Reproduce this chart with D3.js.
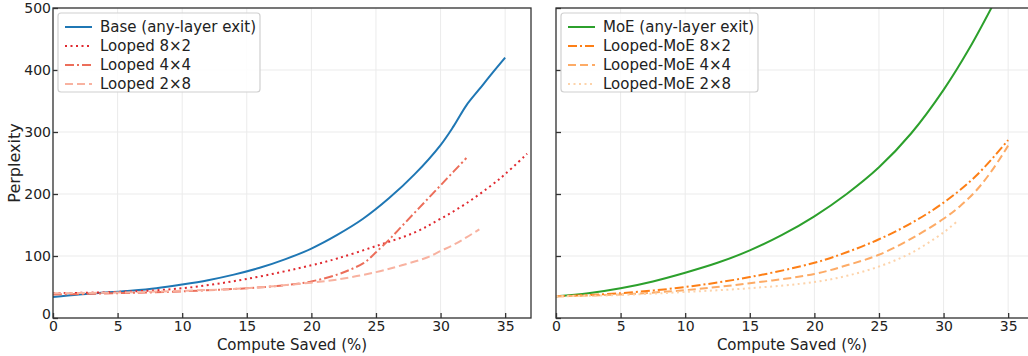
<!DOCTYPE html>
<html><head><meta charset="utf-8">
<script src="https://cdn.jsdelivr.net/npm/d3@7"></script>
<style>body{margin:0;background:#fff}svg{font-family:"DejaVu Sans",sans-serif}</style>
</head><body><svg id="c" width="1028" height="356"></svg>
<script>
// ---- data ----
const xTicks = [0,5,10,15,20,25,30,35];
const yTicks = [0,100,200,300,400,500];

const baseX = [0,2,4,6,8,10,12,14,16,18,20,22,24,26,28,30,31,32,33,34,35];
const baseY = [34,38,41,44,48,54,61,70,81,95,112,134,160,193,232,279,309,343,369,395,420];
const l82X = [0,5,10,15,20,22,25,28,30,32,34,35,36.7];
const l82Y = [40,42,48,63,85,96,116,138,160,185,215,232,265];
const l44X = [0,5,10,15,18,20,22,23,24,24.5,25,26,27,28,29,30,31,32];
const l44Y = [38,40,43,48,53,59,70,78,88,96,106,126,148,170,192,214,236,258];
const l28X = [0,5,10,15,20,22,25,27,29,30,31,32,33];
const l28Y = [40,41,44,48,57,62,74,85,98,108,118,130,143];

const moeX = [0,2.5,5,7.5,10,12.5,15,17.5,20,22.5,25,27.5,30,32,34];
const moeY = [35,40,48,59,73,89,109,134,164,200,243,298,368,435,512];
const m82X = [0,5,10,15,20,22.5,25,27.5,30,32.5,35];
const m82Y = [35,40,50,66,89,106,127,153,186,229,287];
const m44X = [0,5,10,15,20,22.5,25,27.5,30,31.25,32.5,33.75,35];
const m44Y = [35,38,45,56,71,85,102,128,160,180,205,238,278];
const m28X = [0,5,10,15,20,22.5,25,27.5,30,31];
const m28Y = [35,37,42,48,58,68,83,105,138,155];

const leftSeries = [
  {name:"Base (any-layer exit)", x:baseX, y:baseY, color:"#1f77b4", dash:null},
  {name:"Looped 8\u00d72", x:l82X, y:l82Y, color:"#e0292f", dash:"2,3.5"},
  {name:"Looped 4\u00d74", x:l44X, y:l44Y, color:"#ec6e5a", dash:"9,3,2,3"},
  {name:"Looped 2\u00d78", x:l28X, y:l28Y, color:"#f8b2a0", dash:"8,4"}
];
const rightSeries = [
  {name:"MoE (any-layer exit)", x:moeX, y:moeY, color:"#2ca02c", dash:null},
  {name:"Looped-MoE 8\u00d72", x:m82X, y:m82Y, color:"#fd7f16", dash:"9,3,2,3"},
  {name:"Looped-MoE 4\u00d74", x:m44X, y:m44Y, color:"#fdab66", dash:"8,4"},
  {name:"Looped-MoE 2\u00d78", x:m28X, y:m28Y, color:"#fdd3aa", dash:"2,3.5"}
];

const svg = d3.select("#c");
const plotTop=8, plotBottom=318;
const y = d3.scaleLinear().domain([0,500]).range([plotBottom, plotTop]);

function panel(x0, x1, series, showYLabels, id, legendX, legendW){
  const x = d3.scaleLinear().domain([0,37]).range([x0, x1]);
  const g = svg.append("g");
  g.append("clipPath").attr("id", id).append("rect")
    .attr("x", x0).attr("y", plotTop).attr("width", x1-x0).attr("height", plotBottom-plotTop);
  // grid
  g.selectAll(".gx").data(xTicks).join("line")
    .attr("x1", d=>x(d)).attr("x2", d=>x(d)).attr("y1", plotTop).attr("y2", plotBottom)
    .attr("stroke", "#ebebeb").attr("stroke-width", 1);
  g.selectAll(".gy").data(yTicks).join("line")
    .attr("x1", x0).attr("x2", x1).attr("y1", d=>y(d)).attr("y2", d=>y(d))
    .attr("stroke", "#ebebeb").attr("stroke-width", 1);
  // lines
  const lg = g.append("g").attr("clip-path", `url(#${id})`);
  series.forEach(s=>{
    const pts = s.x.map((v,i)=>[v, s.y[i]]);
    const line = d3.line().x(d=>x(d[0])).y(d=>y(d[1])).curve(d3.curveCatmullRom.alpha(0.5));
    lg.append("path").attr("d", line(pts)).attr("fill","none")
      .attr("stroke", s.color).attr("stroke-width", 2)
      .attr("stroke-dasharray", s.dash);
  });
  // frame
  g.append("rect").attr("x", x0).attr("y", plotTop).attr("width", x1-x0).attr("height", plotBottom-plotTop)
    .attr("fill","none").attr("stroke","#333").attr("stroke-width",1.3);
  // x axis ticks inward
  const xa = d3.axisBottom(x).tickValues(xTicks).tickSizeInner(-5).tickSizeOuter(0).tickPadding(3);
  const xg = g.append("g").attr("transform", `translate(0,${plotBottom})`).call(xa);
  xg.select(".domain").remove();
  xg.selectAll("line").attr("stroke","#333").attr("stroke-width",1.3);
  xg.selectAll("text").attr("font-size",14).attr("fill","#222").attr("font-family","DejaVu Sans");
  const ya = d3.axisLeft(y).tickValues(yTicks).tickSizeInner(-5).tickSizeOuter(0).tickPadding(2);
  const yg = g.append("g").attr("transform", `translate(${x0},0)`).call(ya);
  yg.select(".domain").remove();
  yg.selectAll("line").attr("stroke","#333").attr("stroke-width",1.3);
  yg.selectAll("text").attr("font-size",14).attr("fill","#222").attr("font-family","DejaVu Sans");
  if(!showYLabels) yg.selectAll("text").remove();
  yg.selectAll(".tick").filter(d=>d===0).select("text").attr("dy","0.0em");
  // x label
  g.append("text").attr("y", 350)
    .attr("text-anchor","middle").attr("font-size",15).attr("fill","#222")
    .text("Compute Saved (%)")
    .attr("x", (x0 + x1)/2 + (id==="cr"? -3: 0));
  // legend
  const lgd = g.append("g");
  lgd.append("rect").attr("x", legendX).attr("y", 13).attr("width", legendW).attr("height", 79)
    .attr("rx", 3).attr("fill","rgba(255,255,255,0.85)").attr("stroke","#d0d0d0").attr("stroke-width",1.2);
  series.forEach((s,i)=>{
    const yy = 27 + i*19;
    lgd.append("line").attr("x1", legendX+7).attr("x2", legendX+34).attr("y1", yy).attr("y2", yy)
      .attr("stroke", s.color).attr("stroke-width", 2).attr("stroke-dasharray", s.dash);
    lgd.append("text").attr("x", legendX+42).attr("y", yy+5).attr("font-size",15).attr("fill","#222")
      .text(s.name);
  });
}

panel(53, 531, leftSeries, true, "cl", 58, 202);
panel(556, 1034, rightSeries, false, "cr", 561, 197);

svg.append("text").attr("transform","translate(20,163) rotate(-90)")
  .attr("text-anchor","middle").attr("font-size",16).attr("fill","#222").text("Perplexity");
</script>
</body></html>
